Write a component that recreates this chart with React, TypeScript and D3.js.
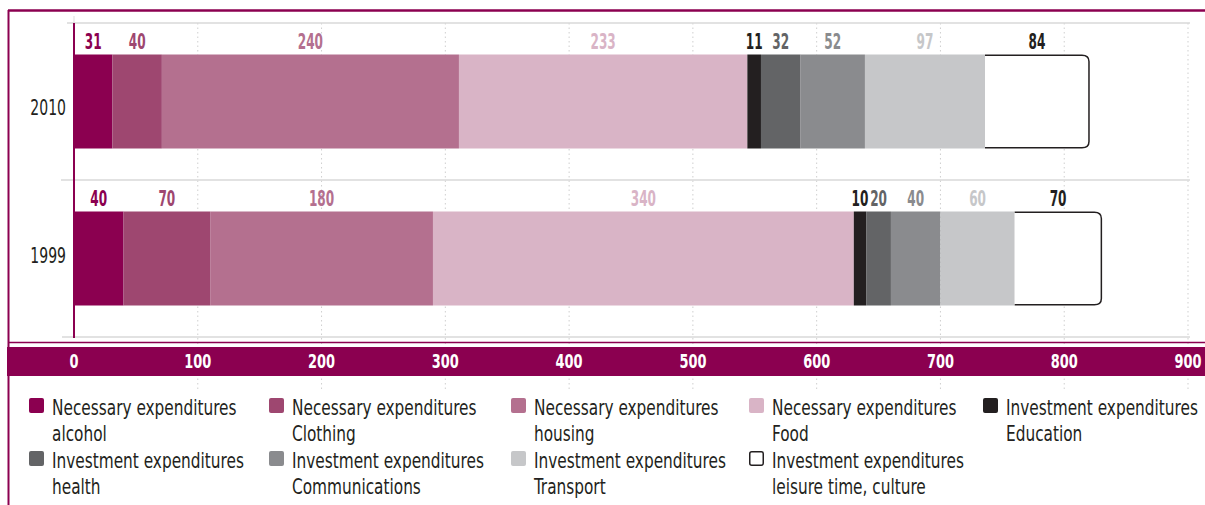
import * as d3 from 'd3';

const categories = ['2010', '1999'];
const seriesKeys = ['alcohol', 'clothing', 'housing', 'food', 'education', 'health', 'communications', 'transport', 'leisure'];
const seriesLabels = [
  ['Necessary expenditures', 'alcohol'],
  ['Necessary expenditures', 'Clothing'],
  ['Necessary expenditures', 'housing'],
  ['Necessary expenditures', 'Food'],
  ['Investment expenditures', 'Education'],
  ['Investment expenditures', 'health'],
  ['Investment expenditures', 'Communications'],
  ['Investment expenditures', 'Transport'],
  ['Investment expenditures', 'leisure time, culture'],
];
const values2010 = [31, 40, 240, 233, 11, 32, 52, 97, 84];
const values1999 = [40, 70, 180, 340, 10, 20, 40, 60, 70];
const xTicks = [0, 100, 200, 300, 400, 500, 600, 700, 800, 900];

const fills = ['#8b0050', '#9e4770', '#b4708f', '#d9b4c6', '#231f20', '#636466', '#8a8b8e', '#c6c7c9', '#ffffff'];
const labelColors = ['#8b0050', '#9e4770', '#b4708f', '#d9b4c6', '#231f20', '#636466', '#8a8b8e', '#c6c7c9', '#231f20'];

const W = 1205;
const H = 505;
const MAGENTA = '#8b0050';
const FONT = '"DejaVu Sans Condensed", "DejaVu Sans", sans-serif';

// the source font is a narrow one; squeeze DejaVu Condensed horizontally
const Narrow = ({ x, y, sx, children, ...rest }: any) => (
  <text transform={`translate(${x},${y}) scale(${sx},1)`} {...rest}>{children}</text>
);

const App = () => {
  const x = d3.scaleLinear().domain([0, 900]).range([74, 1188]);
  const y = d3.scaleBand<string>().domain(categories).range([23, 337]);
  const yLabel = d3.scalePoint<string>().domain(categories).range([107, 255]);
  const barH = 94;

  const rows = [values2010, values1999].map((vals, i) => {
    const r: Record<string, number | string> = { cat: categories[i] };
    seriesKeys.forEach((k, j) => { r[k] = vals[j]; });
    return r;
  });
  const stacked = d3.stack<Record<string, number | string>>().keys(seriesKeys)(rows as any);

  const legendColX = [29, 269, 511, 749, 983];
  const legendRowY = [398, 451];

  return (
    <svg width={W} height={H} style={{ position: 'absolute', left: 0, top: 0 }} fontFamily={FONT}>
      <rect width={W} height={H} fill="#fff" />
      {/* frame */}
      <line x1={8} x2={W} y1={10.5} y2={10.5} stroke={MAGENTA} strokeWidth={2.5} />
      <line x1={8.5} x2={8.5} y1={10} y2={H} stroke={MAGENTA} strokeWidth={2} />

      {/* dotted vertical grid */}
      {xTicks.slice(1).map(t => (
        <line key={'g' + t} x1={x(t)} x2={x(t)} y1={23} y2={392} stroke="#cfcfcf" strokeWidth={1} strokeDasharray="1.5 3" />
      ))}
      {/* horizontal band boundaries */}
      <line x1={67} x2={1190} y1={y('2010')!} y2={y('2010')!} stroke="#d9d9d9" strokeWidth={1.5} />
      <line x1={61} x2={1190} y1={y('1999')!} y2={y('1999')!} stroke="#d9d9d9" strokeWidth={1.5} />
      <line x1={62} x2={1190} y1={y('1999')! + y.bandwidth()} y2={y('1999')! + y.bandwidth()} stroke="#d9d9d9" strokeWidth={1.5} />
      <line x1={x(0)} x2={x(0)} y1={16} y2={23} stroke="#dddddd" strokeWidth={1} />

      {/* bars */}
      {stacked.map((layer, si) => layer.map((d, ci) => {
        const cat = categories[ci];
        const y0 = y(cat)! + y.bandwidth() / 2 - barH / 2;
        const x0 = x(d[0]);
        const x1 = x(d[1]);
        const val = d[1] - d[0];
        const label = (
          <Narrow key={'l' + si + ci} x={(x0 + x1) / 2} y={y0 - 6} sx={0.64} textAnchor="middle"
            fontSize={21} fontWeight="bold" fill={labelColors[si]}>{val}</Narrow>
        );
        if (seriesKeys[si] === 'leisure') {
          const r = 7;
          const y1 = y0 + barH;
          const p = `M${x0},${y0 + 0.75}H${x1 - r}Q${x1},${y0 + 0.75} ${x1},${y0 + r}V${y1 - r}Q${x1},${y1 - 0.75} ${x1 - r},${y1 - 0.75}H${x0}`;
          return (
            <g key={'b' + si + ci}>
              <path d={p} fill="#fff" stroke="#231f20" strokeWidth={1.5} />
              {label}
            </g>
          );
        }
        return (
          <g key={'b' + si + ci}>
            <rect x={x0} y={y0} width={x1 - x0} height={barH} fill={fills[si]} />
            {label}
          </g>
        );
      }))}

      {/* y axis */}
      <line x1={x(0)} x2={x(0)} y1={23} y2={338} stroke={MAGENTA} strokeWidth={2} />
      {categories.map(c => (
        <Narrow key={c} x={66} y={yLabel(c)! + 7.5} sx={0.76} textAnchor="end" fontSize={20.5} fill="#231f20">{c}</Narrow>
      ))}

      {/* x axis band */}
      <line x1={8} x2={W} y1={342.5} y2={342.5} stroke={MAGENTA} strokeWidth={1.5} />
      <rect x={7} y={347} width={W - 7} height={29} fill={MAGENTA} />
      {xTicks.map(t => (
        <Narrow key={'t' + t} x={x(t)} y={368} sx={0.72} textAnchor="middle" fontSize={20} fontWeight="bold" fill="#fff">{t}</Narrow>
      ))}

      {/* legend */}
      {seriesLabels.map((lines, i) => {
        const col = i % 5;
        const row = Math.floor(i / 5);
        const lx = legendColX[col];
        const ly = legendRowY[row];
        const isLeisure = seriesKeys[i] === 'leisure';
        return (
          <g key={'lg' + i}>
            <rect x={lx + (isLeisure ? 0.75 : 0)} y={ly + (isLeisure ? 0.75 : 0)}
              width={isLeisure ? 13.5 : 15} height={isLeisure ? 13.5 : 15} rx={2}
              fill={fills[i]} stroke={isLeisure ? '#231f20' : 'none'} strokeWidth={1.5} />
            {lines.map((t, li) => (
              <Narrow key={li} x={lx + 23} y={ly + 17 + li * 26} sx={0.775} fontSize={22} fill="#231f20">{t}</Narrow>
            ))}
          </g>
        );
      })}
    </svg>
  );
};

export default App;
